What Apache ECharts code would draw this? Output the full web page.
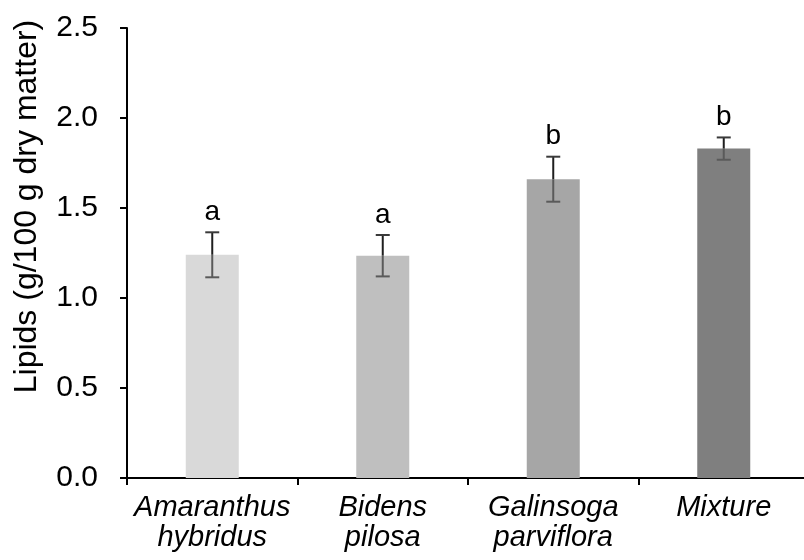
<!DOCTYPE html>
<html>
<head>
<meta charset="utf-8">
<script src="https://cdn.jsdelivr.net/npm/echarts@6/dist/echarts.min.js"></script>
<style>
  html, body { margin: 0; padding: 0; background: #fff; }
  #chart { width: 804px; height: 560px; }
</style>
</head>
<body>
<div id="chart"></div>
<script>
// 数据：各处理的脂质含量（均值 ± 误差），字母为显著性分组
const CATEGORIES = ["Amaranthus\nhybridus", "Bidens\npilosa", "Galinsoga\nparviflora", "Mixture"];
const MEANS = [1.24, 1.235, 1.66, 1.83];
const ERRORS = [0.125, 0.115, 0.125, 0.062];
const LETTERS = ["a", "a", "b", "b"];
const BAR_COLORS = ["#d9d9d9", "#bfbfbf", "#a6a6a6", "#7f7f7f"];
const Y_TICKS = { min: 0, max: 2.5, interval: 0.5 };

const FONT = "'Liberation Sans', Arial, sans-serif";

const chart = echarts.init(document.getElementById("chart"));

chart.setOption({
  animation: false,
  grid: { left: 127, right: -5, top: 28, bottom: 82, containLabel: false, outerBoundsMode: "none" },
  xAxis: {
    type: "category",
    data: CATEGORIES,
    axisLine: { lineStyle: { color: "#000", width: 2 } },
    axisTick: { show: true, length: 7, lineStyle: { color: "#000", width: 2 } },
    axisLabel: {
      color: "#000",
      fontFamily: FONT,
      fontSize: 29,
      fontStyle: "italic",
      lineHeight: 30,
      margin: 15,
      interval: 0,
    },
  },
  yAxis: {
    type: "value",
    min: Y_TICKS.min,
    max: Y_TICKS.max,
    interval: Y_TICKS.interval,
    name: "Lipids (g/100 g dry matter)",
    nameLocation: "middle",
    nameGap: 84,
    nameRotate: 90,
    nameTextStyle: { color: "#000", fontFamily: FONT, fontSize: 32, padding: [0, 0, 0, 93] },
    axisLine: { show: true, lineStyle: { color: "#000", width: 2 } },
    axisTick: { show: true, length: 7, lineStyle: { color: "#000", width: 2 } },
    splitLine: { show: false },
    axisLabel: {
      color: "#000",
      fontFamily: FONT,
      fontSize: 30,
      margin: 29,
      formatter: (v) => v.toFixed(1),
    },
  },
  series: [
    {
      type: "bar",
      barWidth: 53,
      data: MEANS.map((v, i) => ({ value: v, itemStyle: { color: BAR_COLORS[i] } })),
      z: 2,
    },
    {
      type: "custom",
      z: 3,
      data: MEANS.map((m, i) => [i, m, ERRORS[i]]),
      encode: { x: 0, y: 1 },
      renderItem: (params, api) => {
        const i = api.value(0);
        const m = api.value(1);
        const e = api.value(2);
        const top = api.coord([i, m + e]);
        const mid = api.coord([i, m]);
        const bot = api.coord([i, m - e]);
        const hw = 7;
        const dark = { stroke: "#1f1f1f", lineWidth: 2 };
        const grey = { stroke: "#5a5a5a", lineWidth: 2 };
        return {
          type: "group",
          children: [
            { type: "line", shape: { x1: top[0], y1: top[1], x2: mid[0], y2: mid[1] }, style: dark },
            { type: "line", shape: { x1: mid[0], y1: mid[1], x2: bot[0], y2: bot[1] }, style: grey },
            { type: "line", shape: { x1: top[0] - hw, y1: top[1], x2: top[0] + hw, y2: top[1] }, style: { stroke: "#3a3a3a", lineWidth: 2 } },
            { type: "line", shape: { x1: bot[0] - hw, y1: bot[1], x2: bot[0] + hw, y2: bot[1] }, style: grey },
            {
              type: "text",
              x: top[0],
              y: top[1] - 6,
              style: {
                text: LETTERS[params.dataIndex],
                fill: "#000",
                font: "28px " + FONT,
                align: "center",
                verticalAlign: "bottom",
              },
            },
          ],
        };
      },
    },
  ],
});
</script>
</body>
</html>
